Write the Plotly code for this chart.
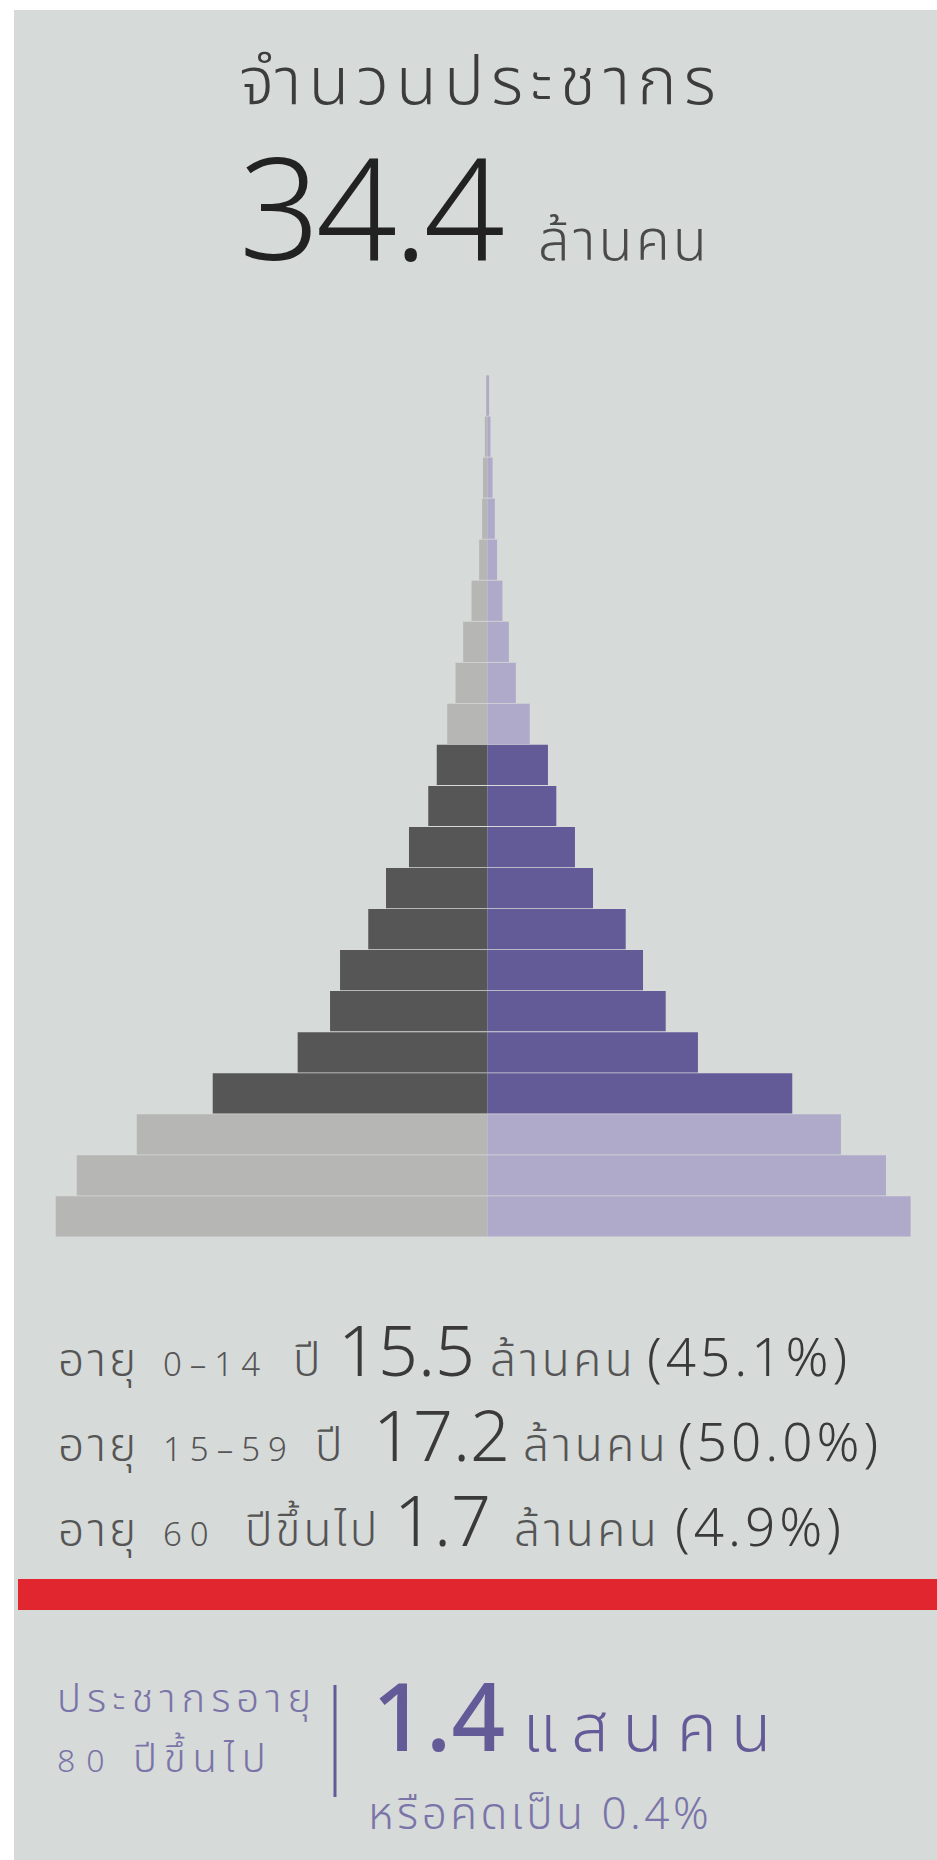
import plotly.graph_objects as go

# Population by five-year age group (thousands of people)
age_groups = ["0-4", "5-9", "10-14", "15-19", "20-24", "25-29", "30-34", "35-39",
              "40-44", "45-49", "50-54", "55-59", "60-64", "65-69", "70-74",
              "75-79", "80-84", "85-89", "90-94", "95-99", "100+"]
male = [2893, 2752, 2350, 1841, 1272, 1055, 988, 799, 680, 526, 397, 340,
        270, 214, 163, 107, 56, 36, 30, 18, 7]
female = [2835, 2670, 2368, 2042, 1410, 1194, 1042, 926, 707, 586, 461, 405,
          283, 190, 143, 100, 64, 49, 34, 20, 11]
working_age = ["15-19", "20-24", "25-29", "30-34", "35-39", "40-44",
               "45-49", "50-54", "55-59"]

# Summary figures shown as text
total_pop = "34.4"
group_ages = ["0–14", "15–59", "60"]
group_suffix = ["ปี", "ปี", "ปีขึ้นไป"]
group_millions = ["15.5", "17.2", "1.7"]
group_shares = ["45.1%", "50.0%", "4.9%"]
oldest_count = "1.4"
oldest_share = "0.4%"

W, H = 937, 1860
ML, MR, MT, MB = 38, 0, 375, 623
PW, PH = W - ML - MR, H - MT - MB

BG = "#d6dad9"
DARK_M, LIGHT_M = "#565656", "#b6b6b5"
DARK_F, LIGHT_F = "#635b97", "#afaac9"
PURPLE = "#635b97"
SOFT_PURPLE = "#7a74a8"
FONT = "Noto Sans Thai, Noto Sans, sans-serif"


def px(x):
    return (x - ML) / PW


def py(y):
    return (H - MB - y) / PH


def span(text, size, spacing=0, color=None, weight=None):
    style = f"font-size:{size}px;letter-spacing:{spacing}px"
    if color:
        style += f";color:{color}"
    if weight:
        style += f";font-weight:{weight}"
    return f"<span style='{style}'>{text}</span>"


male_colors = [DARK_M if a in working_age else LIGHT_M for a in age_groups]
female_colors = [DARK_F if a in working_age else LIGHT_F for a in age_groups]

fig = go.Figure()
fig.add_trace(go.Bar(
    y=age_groups, x=[-v for v in male], orientation="h", name="ชาย",
    marker=dict(color=male_colors, line=dict(width=0)),
    customdata=male, hovertemplate="%{y}: %{customdata:,} พันคน<extra>ชาย</extra>",
))
fig.add_trace(go.Bar(
    y=age_groups, x=female, orientation="h", name="หญิง",
    marker=dict(color=female_colors, line=dict(width=0)),
    hovertemplate="%{y}: %{x:,} พันคน<extra>หญิง</extra>",
))

R = 449.5 * 6.7
fig.update_xaxes(range=[-R, R], visible=False, fixedrange=True)
fig.update_yaxes(categoryorder="array", categoryarray=age_groups,
                 visible=False, fixedrange=True)

shapes = [
    # grey card
    dict(type="rect", xref="paper", yref="paper", layer="below",
         x0=px(14), x1=px(937), y0=py(1860), y1=py(10),
         fillcolor=BG, line=dict(width=0)),
    # red divider
    dict(type="rect", xref="paper", yref="paper", layer="below",
         x0=px(18), x1=px(937), y0=py(1610), y1=py(1579),
         fillcolor="#e2262f", line=dict(width=0)),
    # purple separator
    dict(type="line", xref="paper", yref="paper",
         x0=px(335), x1=px(335), y0=py(1797), y1=py(1685),
         line=dict(color=PURPLE, width=3)),
]

ann = []


def note(text, x, y, size, color, xanchor="left", yanchor="middle", weight=300):
    ann.append(dict(text=text, x=px(x), y=py(y), xref="paper", yref="paper",
                    showarrow=False, xanchor=xanchor, yanchor=yanchor,
                    font=dict(family=FONT, size=size, color=color, weight=weight)))


# headline
note(span("จำนวนประชากร", 67, 7), 481, 83, 67, "#3c3c3c", xanchor="center")
note(span(total_pop, 142, -4, "#222222") + span("&nbsp;&nbsp;", 56, 4)
     + span("ล้านคน", 56, 3, "#4a4a4a"),
     237, 216, 56, "#222222")

# three age-group lines; every piece carries a 70px strut so baselines agree
STRUT = span("&nbsp;", 70)
row_y = [1355, 1440, 1525]
x_ages = 163
x_suffix = [293, 315, 245]
x_value = [336, 371, 392]
x_unit = [488, 521, 512]
x_share = [645, 676, 673]
for i, yy in enumerate(row_y):
    note(span("อายุ", 46, 3) + STRUT, 56, yy, 46, "#555555")
    note(span(group_ages[i], 33, 8) + STRUT, x_ages - 2, yy, 33, "#555555")
    note(span(group_suffix[i], 46, 3) + STRUT, x_suffix[i] - 2, yy, 46, "#555555")
    note(span(group_millions[i], 70, 0) + STRUT, x_value[i], yy, 70, "#3a3a3a")
    note(span("ล้านคน", 46, 3.5) + STRUT, x_unit[i], yy, 46, "#555555")
    note(span(f"({group_shares[i]})", 53, 4) + STRUT, x_share[i], yy, 53, "#3a3a3a")

# people aged 80 and over
note(span("ประชากรอายุ", 40, 6), 55, 1700, 40, SOFT_PURPLE)
note(span("80", 32, 11) + span(" ปีขึ้นไป", 40, 7), 55, 1760, 40, SOFT_PURPLE)
note(span(oldest_count, 94, 0, weight=500) + span(" ", 66)
     + span("แสนคน", 66, 14),
     370, 1722, 66, PURPLE)
note(span(f"หรือคิดเป็น {oldest_share}", 44, 3.5), 366, 1815, 44, SOFT_PURPLE)

fig.update_layout(
    width=W, height=H,
    margin=dict(l=ML, r=MR, t=MT, b=MB, pad=0),
    paper_bgcolor="white", plot_bgcolor="rgba(0,0,0,0)",
    barmode="relative", bargap=0.02, showlegend=False,
    shapes=shapes, annotations=ann,
)

fig.write_html("out.html")
